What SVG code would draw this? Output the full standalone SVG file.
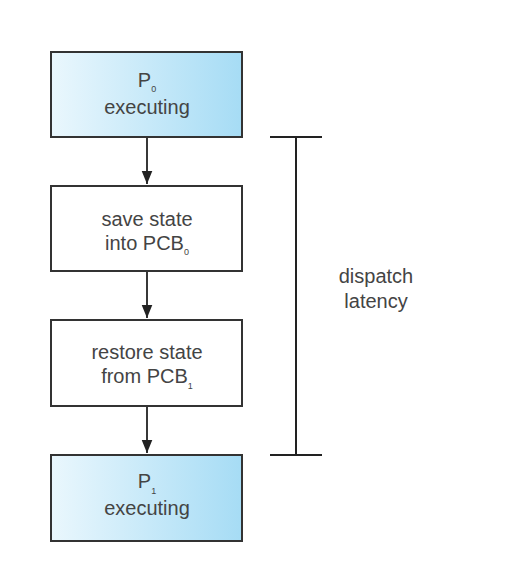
<svg xmlns="http://www.w3.org/2000/svg" width="530" height="566" viewBox="0 0 530 566">
<defs>
<linearGradient id="blue" x1="0" y1="0" x2="1" y2="0">
<stop offset="0" stop-color="#eaf7fd"/>
<stop offset="1" stop-color="#a6dcf5"/>
</linearGradient>
<marker id="ah" markerWidth="13" markerHeight="16" refX="16" refY="6.5" orient="auto" markerUnits="userSpaceOnUse" viewBox="0 0 16 13">
<path d="M0,0 L16,6.5 L0,13 Z" fill="#222"/>
</marker>
<style>
.box{stroke:#333;stroke-width:2}
.t{font-family:"Liberation Sans",Arial,sans-serif;font-size:20px;fill:#444;text-anchor:middle}
.sub{font-size:9px}
.conn{stroke:#222;stroke-width:1.8;fill:none}
.bar{stroke:#222;stroke-width:2;fill:none}
</style>
</defs>
<rect width="530" height="566" fill="#fff"/>
<g id="p0">
<rect class="box" x="51" y="52" width="191" height="85" fill="url(#blue)"/>
<text class="t" x="147" y="87">P<tspan class="sub" dy="5">0</tspan></text>
<text class="t" x="147" y="114">executing</text>
</g>
<g id="save">
<rect class="box" x="51" y="186" width="191" height="85" fill="#fff"/>
<text class="t" x="147" y="226">save state</text>
<text class="t" x="147" y="250">into PCB<tspan class="sub" dy="5">0</tspan></text>
</g>
<g id="restore">
<rect class="box" x="51" y="320" width="191" height="86" fill="#fff"/>
<text class="t" x="147" y="359">restore state</text>
<text class="t" x="147" y="383">from PCB<tspan class="sub" dy="6">1</tspan></text>
</g>
<g id="p1">
<rect class="box" x="51" y="455" width="191" height="86" fill="url(#blue)"/>
<text class="t" x="147" y="488">P<tspan class="sub" dy="6">1</tspan></text>
<text class="t" x="147" y="515">executing</text>
</g>
<g id="connectors">
<line class="conn" x1="147" y1="138" x2="147" y2="184" marker-end="url(#ah)"/>
<line class="conn" x1="147" y1="272" x2="147" y2="318" marker-end="url(#ah)"/>
<line class="conn" x1="147" y1="407" x2="147" y2="453" marker-end="url(#ah)"/>
</g>
<g id="latency">
<line class="bar" x1="270" y1="137" x2="322" y2="137"/>
<line class="bar" x1="296" y1="137" x2="296" y2="455"/>
<line class="bar" x1="270" y1="455" x2="322" y2="455"/>
<text class="t" x="376" y="283">dispatch</text>
<text class="t" x="376" y="308">latency</text>
</g>
</svg>
